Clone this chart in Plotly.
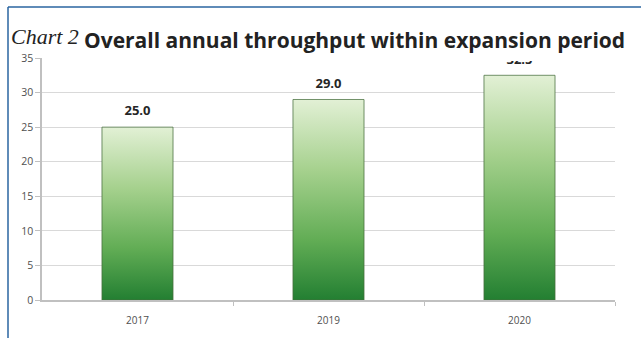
import plotly.graph_objects as go

# Chart data
years = ["2017", "2019", "2020"]
throughput = [25.0, 29.0, 32.5]
y_ticks = [0, 5, 10, 15, 20, 25, 30, 35]

W, H = 641, 338
ML, MR, MT, MB = 42, 26, 58, 38
plot_w = W - ML - MR
plot_h = H - MT - MB

def px_x(x):
    return (x - ML) / plot_w

def px_y(y):
    return (H - MB - y) / plot_h

half = 0.186  # half bar width in category units
green_scale = [[0.0, "#237f32"], [0.3, "#62ad55"], [0.65, "#a6d18e"], [1.0, "#e2f0d5"]]

fig = go.Figure()
for i, (yr, v) in enumerate(zip(years, throughput)):
    fig.add_trace(go.Scatter(
        x=[i - half, i - half, i + half, i + half, i - half],
        y=[0, v, v, 0, 0],
        mode="lines",
        fill="toself",
        fillgradient=dict(type="vertical", colorscale=green_scale, start=0, stop=v),
        line=dict(color="rgba(70,110,60,0.75)", width=1),
        hoverinfo="skip",
        showlegend=False,
    ))

# value labels above bars (invisible markers push the text upward)
fig.add_trace(go.Scatter(
    x=list(range(len(years))),
    y=throughput,
    mode="markers+text",
    marker=dict(size=12, opacity=0),
    text=[f"{v:.1f}" for v in throughput],
    textposition="top center",
    textfont=dict(family="Open Sans", size=13, color="#262626", weight="bold"),
    showlegend=False,
    hoverinfo="skip",
))

fig.update_layout(
    width=W, height=H,
    margin=dict(l=ML, r=MR, t=MT, b=MB),
    paper_bgcolor="white",
    plot_bgcolor="white",
    xaxis=dict(
        range=[-0.5, 2.5],
        tickvals=list(range(len(years))),
        ticktext=years,
        ticks="",
        ticklabelstandoff=10,
        showgrid=False,
        zeroline=False,
        showline=True,
        linecolor="#c0c0c0",
        linewidth=1.5,
        tickfont=dict(family="Open Sans", size=10, color="#505050"),
        minor=dict(tickvals=[0.5, 1.5, 2.5], ticks="outside", ticklen=4,
                   tickcolor="#c0c0c0", showgrid=False),
        fixedrange=True,
    ),
    yaxis=dict(
        range=[0, 35],
        tickvals=y_ticks,
        ticks="outside",
        ticklen=5,
        tickcolor="#c0c0c0",
        showgrid=True,
        gridcolor="#d9d9d9",
        gridwidth=1,
        zeroline=False,
        showline=True,
        linecolor="#c0c0c0",
        linewidth=1.5,
        tickfont=dict(family="Open Sans", size=10.5, color="#505050"),
        fixedrange=True,
    ),
    shapes=[
        # white band behind the title
        dict(type="rect", xref="paper", yref="paper",
             x0=px_x(77), x1=px_x(W), y0=px_y(61), y1=px_y(14),
             fillcolor="white", line=dict(width=0), layer="above"),
        # blue frame (top and left edges)
        dict(type="line", xref="paper", yref="paper",
             x0=px_x(8), x1=px_x(W), y0=px_y(7), y1=px_y(7),
             line=dict(color="#2a64a0", width=1.5), layer="above"),
        dict(type="line", xref="paper", yref="paper",
             x0=px_x(8), x1=px_x(8), y0=px_y(7), y1=px_y(H),
             line=dict(color="#2a64a0", width=1.5), layer="above"),
    ],
    annotations=[
        dict(text="<i>Chart 2</i>", xref="paper", yref="paper",
             x=px_x(9), y=px_y(36), xanchor="left", yanchor="middle",
             showarrow=False,
             font=dict(family="Liberation Serif", size=22, color="#222222")),
        dict(text="<b>Overall annual throughput within expansion period</b>",
             xref="paper", yref="paper",
             x=px_x(82), y=px_y(40), xanchor="left", yanchor="middle",
             showarrow=False,
             font=dict(family="Open Sans", size=21, color="#222222")),
    ],
)

fig.write_html("out.html")
